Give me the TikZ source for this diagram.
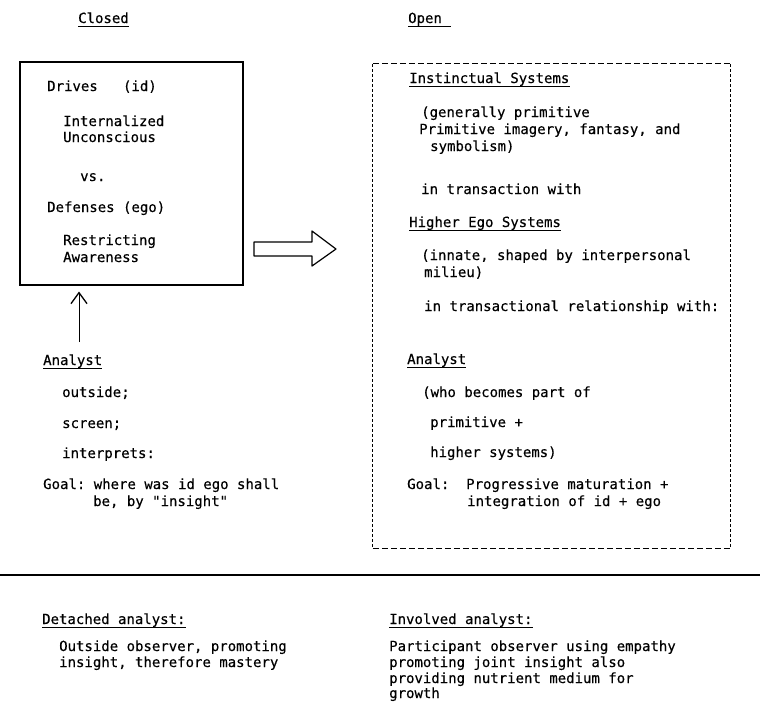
\documentclass[tikz,border=0pt]{standalone}
\usepackage{fontspec}
\setmonofont[FakeBold=0.35]{DejaVu Sans Mono}
\usetikzlibrary{arrows.meta}

\begin{document}
\begin{tikzpicture}[x=1pt,y=-1pt,
  txt/.style={anchor=base west, inner sep=0pt, font=\ttfamily\fontsize{14}{17}\selectfont},
  ul/.style={line width=0.9pt},
  framebox/.style={draw, line width=1.1pt, inner sep=0pt},
  hdash/.style={line width=1pt, dash pattern=on 6pt off 3pt},
  vdash/.style={line width=1pt, dash pattern=on 3pt off 2pt},
  upshaft/.style={line width=1pt, -{Straight Barb[length=11pt,width=16pt,line width=1.3pt]}},
  bigarrow/.style={line width=1.2pt, line join=round}
]
\useasboundingbox (0,0) rectangle (760,702);

% ---------- headings ----------
\node[txt] (closed) at (78,23) {Closed};
\node[txt] (open)   at (408,23) {Open};
\draw[ul] ([yshift=-3pt]closed.base west) -- ([yshift=-3pt]closed.base east);
\draw[ul] ([yshift=-3pt]open.base west) -- ([xshift=9pt,yshift=-3pt]open.base east);

% ---------- closed system ----------
\node[framebox, minimum width=223pt, minimum height=223pt] (closedbox) at (131.5,173.5) {};
\node[txt] (drives)  at (47,91)  {Drives\ \ \ (id)};
\node[txt] (intern)  at (63,126) {Internalized};
\node[txt] (uncon)   at (63,142) {Unconscious};
\node[txt] (vs)      at (80,181) {vs.};
\node[txt] (defense) at (47,212) {Defenses (ego)};
\node[txt] (restr)   at (63,245) {Restricting};
\node[txt] (aware)   at (63,262) {Awareness};

% analyst looking in from outside
\coordinate (upfoot) at (79,342);
\draw[upshaft] (upfoot) -- ([yshift=-6pt]closedbox.south -| upfoot);

\node[txt] (lanalyst) at (43,365) {Analyst};
\draw[ul] ([yshift=-3pt]lanalyst.base west) -- ([yshift=-3pt]lanalyst.base east);
\node[txt] (outside)  at (62,397) {outside;};
\node[txt] (screen)   at (62,428) {screen;};
\node[txt] (interp)   at (62,458) {interprets:};
\node[txt] (lgoal)    at (43,489) {Goal: where was id ego shall};
\node[txt] (lgoalb)   at (93,506) {be, by "insight"};

% ---------- transition arrow ----------
\coordinate (a1) at (254,242);
\coordinate (a2) at (312,242);
\coordinate (a3) at (312,231);
\coordinate (a4) at (336,249);
\coordinate (a5) at (312,266);
\coordinate (a6) at (312,256);
\coordinate (a7) at (254,256);
\draw[bigarrow] (a1) -- (a2) -- (a3) -- (a4) -- (a5) -- (a6) -- (a7) -- cycle;

% ---------- open system ----------
\node[inner sep=0pt, minimum width=357pt, minimum height=484pt] (openbox) at (551.5,306) {};
\draw[hdash] (openbox.north west) -- (openbox.north east);
\draw[hdash] (openbox.south west) -- (openbox.south east);
\draw[vdash] (openbox.north west) -- (openbox.south west);
\draw[vdash] (openbox.north east) -- (openbox.south east);

\node[txt] (instinct) at (409,83)  {Instinctual Systems};
\draw[ul] ([yshift=-3pt]instinct.base west) -- ([yshift=-3pt]instinct.base east);
\node[txt] (gen)      at (421,117) {(generally primitive};
\node[txt] (prim)     at (419,134) {Primitive imagery, fantasy, and};
\node[txt] (symb)     at (430,151) {symbolism)};
\node[txt] (trans)    at (421,194) {in transaction with};
\node[txt] (higher)   at (409,227) {Higher Ego Systems};
\draw[ul] ([yshift=-3pt]higher.base west) -- ([yshift=-3pt]higher.base east);
\node[txt] (innate)   at (421,260) {(innate, shaped by interpersonal};
\node[txt] (milieu)   at (424,277) {milieu)};
\node[txt] (transrel) at (424,311) {in transactional relationship with:};

\node[txt] (ranalyst) at (407,364) {Analyst};
\draw[ul] ([yshift=-3pt]ranalyst.base west) -- ([yshift=-3pt]ranalyst.base east);
\node[txt] (who)      at (422,397) {(who becomes part of};
\node[txt] (primplus) at (430,427) {primitive +};
\node[txt] (highsys)  at (430,457) {higher systems)};
\node[txt] (rgoal)    at (407,489) {Goal:\ \ Progressive maturation +};
\node[txt] (rgoalb)   at (467,506) {integration of id + ego};

% ---------- rule ----------
\coordinate (ruleL) at (0,575);
\coordinate (ruleR) at (760,575);
\draw[line width=1.3pt] (ruleL) -- (ruleR);

% ---------- summaries ----------
\node[txt] (detached) at (42,624) {Detached analyst:};
\draw[ul] ([yshift=-3pt]detached.base west) -- ([yshift=-3pt]detached.base east);
\node[txt] (det1) at (59,651) {Outside observer, promoting};
\node[txt] (det2) at (59,667) {insight, therefore mastery};

\node[txt] (involved) at (389,624) {Involved analyst:};
\draw[ul] ([yshift=-3pt]involved.base west) -- ([yshift=-3pt]involved.base east);
\node[txt] (inv1) at (389,651) {Participant observer using empathy};
\node[txt] (inv2) at (389,667) {promoting joint insight also};
\node[txt] (inv3) at (389,683) {providing nutrient medium for};
\node[txt] (inv4) at (389,698) {growth};
\end{tikzpicture}
\end{document}
